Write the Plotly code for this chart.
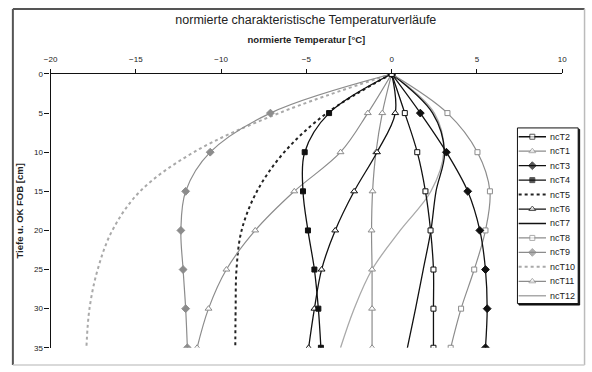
import plotly.graph_objects as go

W, H = 592, 372

depth = [0, 5, 10, 15, 20, 25, 30, 35]

ncT1 = [0, -0.55, -0.92, -1.12, -1.18, -1.15, -1.15, -1.15]
ncT2 = [0, 0.77, 1.50, 1.98, 2.28, 2.45, 2.45, 2.45]
ncT3 = [0, 1.68, 3.21, 4.46, 5.17, 5.50, 5.60, 5.50]
ncT4 = [0, -3.67, -5.10, -5.20, -4.91, -4.53, -4.30, -4.15]
ncT5 = [0, -3.8, -6.3, -7.9, -8.8, -9.1, -9.15, -9.17]
ncT6 = [0, 0.21, -0.86, -2.20, -3.31, -4.11, -4.53, -4.87]
ncT7 = [0, 2.4, 3.1, 2.6, 2.3, 1.85, 1.4, 0.92]
ncT8 = [0, 3.27, 5.03, 5.76, 5.50, 4.84, 4.07, 3.46]
ncT9 = [0, -7.11, -10.64, -12.08, -12.36, -12.23, -12.08, -11.98]
ncT10 = [0, -6.6, -11.6, -14.75, -16.38, -17.24, -17.72, -17.9]
ncT11 = [0, -1.4, -3.0, -5.71, -8.0, -9.69, -10.74, -11.41]
ncT12 = [0, 2.5, 3.05, 2.3, 0.5, -1.15, -2.2, -3.0]

legend_order = ["ncT2", "ncT1", "ncT3", "ncT4", "ncT5", "ncT6",
                "ncT7", "ncT8", "ncT9", "ncT10", "ncT11", "ncT12"]

series = {
    "ncT1": ncT1, "ncT2": ncT2, "ncT3": ncT3, "ncT4": ncT4,
    "ncT5": ncT5, "ncT6": ncT6, "ncT7": ncT7, "ncT8": ncT8,
    "ncT9": ncT9, "ncT10": ncT10, "ncT11": ncT11, "ncT12": ncT12,
}

BLK = "#111111"
GRY = "#8c8c8c"
LGR = "#a9a9a9"

# style: line color, width, dash, marker symbol, marker fill, marker line color, size
styles = {
    "ncT2": (BLK, 1.3, "solid", "square", "white", BLK, 5),
    "ncT1": (GRY, 1.2, "solid", "triangle-up", "white", GRY, 6),
    "ncT3": (BLK, 1.3, "solid", "diamond", BLK, BLK, 6),
    "ncT4": (BLK, 1.3, "solid", "square", BLK, BLK, 5),
    "ncT5": ("#222222", 2.0, "dot", None, None, None, 0),
    "ncT6": (BLK, 1.3, "solid", "triangle-up", "white", BLK, 6),
    "ncT7": (BLK, 1.3, "solid", None, None, None, 0),
    "ncT8": (GRY, 1.2, "solid", "square", "white", GRY, 5),
    "ncT9": (GRY, 1.2, "solid", "diamond", GRY, GRY, 6),
    "ncT10": (LGR, 2.0, "dot", None, None, None, 0),
    "ncT11": (GRY, 1.2, "solid", "triangle-up", "white", GRY, 6),
    "ncT12": (LGR, 1.3, "solid", None, None, None, 0),
}

def px_x(p):
    return p / W

def px_y(p):
    return 1 - p / H

fig = go.Figure()

draw_order = ["ncT10", "ncT5", "ncT12", "ncT7", "ncT9", "ncT11", "ncT8",
              "ncT1", "ncT6", "ncT4", "ncT3", "ncT2"]
for name in draw_order:
    col, lw, dash, sym, fill, mlc, ms = styles[name]
    mode = "lines+markers" if sym else "lines"
    marker = dict(symbol=sym, color=fill, size=ms, line=dict(color=mlc, width=1)) if sym else None
    fig.add_trace(go.Scatter(
        x=series[name], y=depth, mode=mode, name=name,
        line=dict(color=col, width=lw, dash=dash, shape="spline", smoothing=1.0),
        marker=marker, showlegend=False, xaxis="x", yaxis="y",
    ))

# custom legend on auxiliary axes
for i, name in enumerate(legend_order, start=1):
    col, lw, dash, sym, fill, mlc, ms = styles[name]
    lx = [0.02, 0.245, 0.47]
    ly = [i, i, i]
    if sym:
        fig.add_trace(go.Scatter(
            x=lx, y=ly, mode="lines+markers",
            line=dict(color=col, width=lw, dash=dash),
            marker=dict(symbol=sym, color=fill, size=[0, ms, 0],
                        line=dict(color=mlc, width=[0, 1, 0])),
            showlegend=False, xaxis="x2", yaxis="y2", hoverinfo="skip"))
    else:
        fig.add_trace(go.Scatter(
            x=lx, y=ly, mode="lines",
            line=dict(color=col, width=lw, dash=dash),
            showlegend=False, xaxis="x2", yaxis="y2", hoverinfo="skip"))
    fig.add_annotation(x=0.5, y=i, xref="x2", yref="y2", text=name,
                       showarrow=False, xanchor="left", yanchor="middle",
                       font=dict(family="Liberation Sans", size=9, color="#222"))

font_tick = dict(family="Liberation Sans", size=8, color="#222")

fig.update_layout(
    width=W, height=H,
    margin=dict(l=0, r=0, t=0, b=0),
    paper_bgcolor="white", plot_bgcolor="rgba(0,0,0,0)",
    showlegend=False,
    title=dict(text="normierte charakteristische Temperaturverläufe",
               x=305 / W, xanchor="center", y=1 - 20 / H, yanchor="middle",
               yref="container", xref="paper",
               font=dict(family="Liberation Sans", size=12.5, color="#222")),
    xaxis=dict(domain=[px_x(44.5), px_x(566.7)], range=[-20, 10], dtick=5,
               side="top", showline=True, linecolor="#111", linewidth=1.3,
               ticks="outside", ticklen=4, tickcolor="#111", tickwidth=1,
               ticklabelstandoff=4,
               showgrid=False, zeroline=False, tickfont=font_tick,
               title=dict(text="<b>normierte Temperatur [°C]</b>", standoff=9,
                          font=dict(family="Liberation Sans", size=9.5, color="#222"))),
    yaxis=dict(domain=[px_y(352.3), px_y(71.7)], range=[35, 0], dtick=5,
               showline=True, linecolor="#111", linewidth=1.3,
               ticks="outside", ticklen=5, tickcolor="#111", tickwidth=1,
               showgrid=False, zeroline=False, tickfont=font_tick,
               title=dict(text="<b>Tiefe u. OK FOB [cm]</b>", standoff=8,
                          font=dict(family="Liberation Sans", size=9.5, color="#222"))),
    xaxis2=dict(domain=[px_x(521), px_x(583)], range=[0, 1], visible=False,
                anchor="y2", fixedrange=True),
    yaxis2=dict(domain=[px_y(307), px_y(127)], range=[12.54, 0.39], visible=False,
                anchor="x2", fixedrange=True),
)

shapes = [
    # chart frame
    dict(type="line", xref="paper", yref="paper", x0=px_x(6), x1=px_x(6), y0=px_y(5), y1=px_y(370),
         line=dict(color="#555", width=2)),
    dict(type="line", xref="paper", yref="paper", x0=px_x(6), x1=px_x(589.5), y0=px_y(5), y1=px_y(5),
         line=dict(color="#555", width=2)),
    dict(type="line", xref="paper", yref="paper", x0=px_x(589.5), x1=px_x(589.5), y0=px_y(5), y1=px_y(370),
         line=dict(color="#bbb", width=1.5)),
    dict(type="line", xref="paper", yref="paper", x0=px_x(6), x1=px_x(589.5), y0=px_y(370), y1=px_y(370),
         line=dict(color="#ccc", width=1.5)),
    # legend shadow, white fill (below traces), border (above)
    dict(type="rect", xref="paper", yref="paper", x0=px_x(522.5), x1=px_x(584.5), y0=px_y(308.5), y1=px_y(128.5),
         line=dict(color="#111", width=1), fillcolor="#111", layer="below"),
    dict(type="rect", xref="paper", yref="paper", x0=px_x(521), x1=px_x(583), y0=px_y(307), y1=px_y(127),
         line=dict(width=0), fillcolor="white", layer="below"),
    dict(type="rect", xref="paper", yref="paper", x0=px_x(521), x1=px_x(583), y0=px_y(307), y1=px_y(127),
         line=dict(color="#111", width=1), fillcolor="rgba(0,0,0,0)", layer="above"),
]
fig.update_layout(shapes=shapes)

fig.write_html("out.html")
